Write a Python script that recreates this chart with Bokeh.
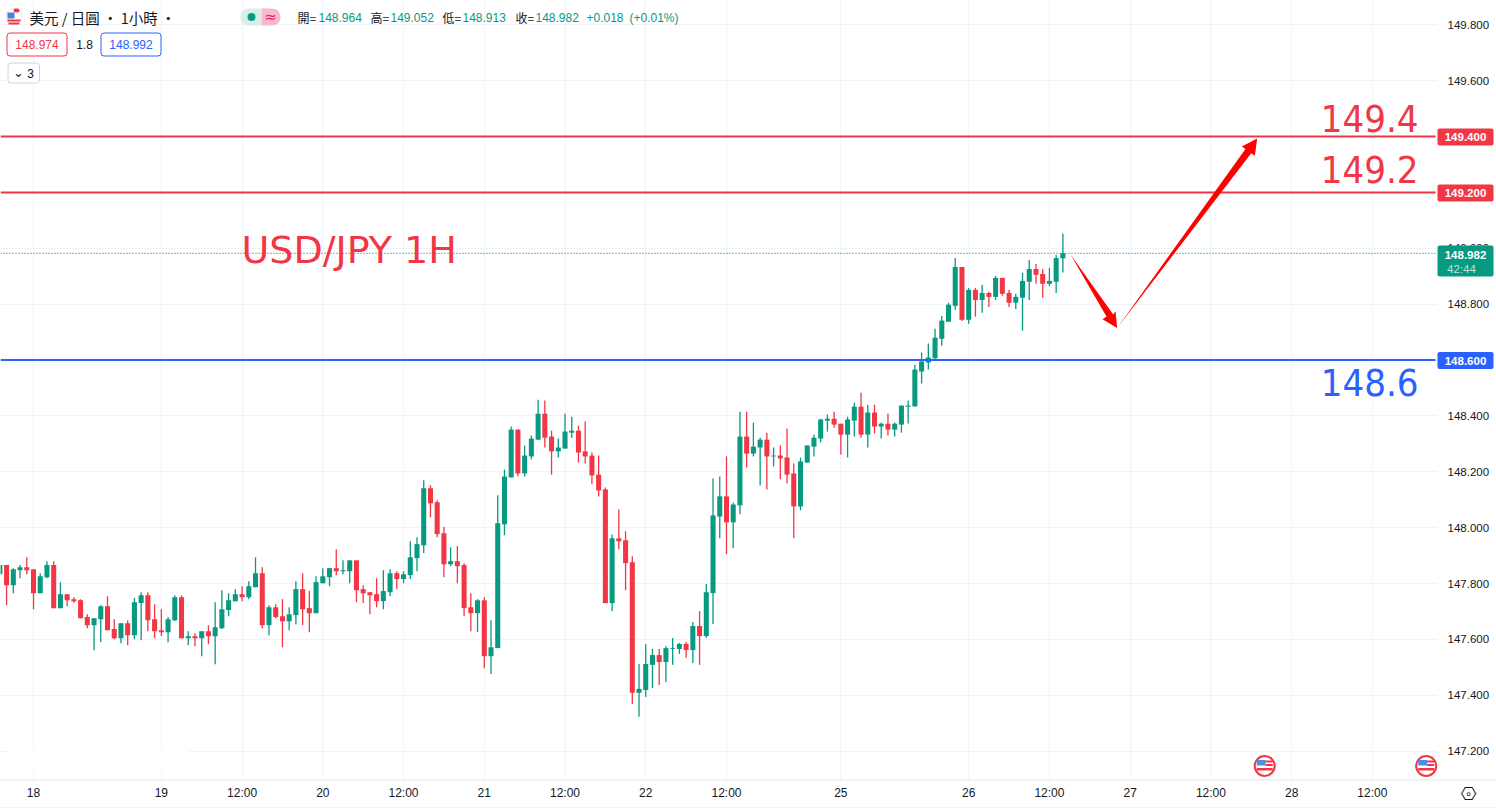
from bokeh.plotting import figure
from bokeh.models import (ColumnDataSource, LinearAxis, FixedTicker, Range1d, Label,
                          BoxAnnotation, NumeralTickFormatter)
from bokeh.embed import file_html
from bokeh.resources import INLINE

opens = [147.833,147.866,147.794,147.848,147.858,147.851,147.765,147.823,147.866,147.712,
147.762,147.744,147.740,147.680,147.651,147.672,147.719,147.637,147.604,147.658,
147.615,147.730,147.758,147.672,147.633,147.626,147.669,147.751,147.604,147.611,
147.604,147.629,147.611,147.640,147.705,147.737,147.762,147.751,147.787,147.837,
147.651,147.715,147.683,147.665,147.687,147.780,147.712,147.694,147.801,147.823,
147.855,147.844,147.844,147.883,147.780,147.769,147.762,147.737,147.769,147.837,
147.816,147.830,147.891,147.937,148.141,148.091,147.980,147.869,147.880,147.866,
147.715,147.694,147.740,147.540,147.569,148.012,148.180,148.351,148.194,148.255,
148.315,148.408,148.326,148.273,148.283,148.340,148.347,148.273,148.258,148.190,
148.137,147.730,147.962,147.955,147.876,147.409,147.419,147.509,147.544,147.519,
147.566,147.566,147.584,147.562,147.648,147.612,147.766,148.040,148.112,148.019,
148.080,148.326,148.265,148.287,148.315,148.255,148.258,148.251,148.194,148.076,
148.233,148.290,148.319,148.383,148.390,148.372,148.333,148.383,148.433,148.333,
148.412,148.362,148.372,148.351,148.369,148.433,148.434,148.559,148.591,148.606,
148.676,148.737,148.794,148.933,148.744,148.851,148.815,148.840,148.826,148.894,
148.840,148.805,148.823,148.880,148.926,148.908,148.873,148.880,148.964]
highs = [147.866,147.866,147.855,147.866,147.894,147.851,147.837,147.880,147.880,147.805,
147.762,147.751,147.744,147.690,147.676,147.722,147.755,147.672,147.658,147.669,
147.748,147.769,147.769,147.726,147.708,147.680,147.758,147.758,147.629,147.622,
147.629,147.651,147.733,147.776,147.765,147.780,147.790,147.808,147.894,147.858,
147.722,147.726,147.744,147.715,147.808,147.837,147.773,147.826,147.855,147.855,
147.923,147.883,147.883,147.883,147.794,147.769,147.819,147.848,147.851,147.844,
147.844,147.951,147.966,148.170,148.152,148.098,148.002,147.930,147.934,147.873,
147.765,147.744,147.751,147.669,148.116,148.208,148.362,148.351,148.294,148.330,
148.458,148.455,148.347,148.319,148.408,148.397,148.365,148.380,148.269,148.258,
148.144,147.976,148.065,147.987,147.898,147.512,147.583,147.566,147.566,147.576,
147.605,147.587,147.591,147.662,147.701,147.798,148.176,148.183,148.255,148.090,
148.415,148.415,148.376,148.322,148.340,148.287,148.294,148.355,148.230,148.251,
148.294,148.333,148.390,148.405,148.415,148.372,148.397,148.447,148.483,148.440,
148.440,148.376,148.408,148.376,148.437,148.455,148.583,148.627,148.659,148.712,
148.758,148.805,148.965,148.933,148.858,148.858,148.869,148.844,148.901,148.894,
148.851,148.837,148.912,148.958,148.944,148.926,148.930,148.976,149.052]
lows = [147.833,147.722,147.765,147.819,147.833,147.708,147.765,147.819,147.712,147.712,
147.719,147.730,147.676,147.640,147.561,147.590,147.633,147.601,147.586,147.579,
147.601,147.597,147.629,147.604,147.612,147.590,147.665,147.604,147.579,147.576,
147.540,147.583,147.511,147.637,147.683,147.737,147.737,147.744,147.787,147.640,
147.615,147.676,147.572,147.633,147.654,147.651,147.626,147.694,147.801,147.790,
147.830,147.833,147.801,147.733,147.730,147.690,147.715,147.708,147.755,147.780,
147.801,147.816,147.844,147.909,148.037,147.966,147.823,147.862,147.801,147.683,
147.629,147.626,147.497,147.476,147.569,147.973,148.180,148.183,148.183,148.244,
148.315,148.287,148.190,148.251,148.283,148.322,148.233,148.230,148.155,148.112,
147.730,147.701,147.923,147.776,147.369,147.323,147.394,147.426,147.437,147.448,
147.509,147.548,147.534,147.516,147.509,147.605,147.655,147.962,147.905,147.926,
148.048,148.215,148.255,148.151,148.137,148.219,148.173,148.158,147.962,148.062,
148.233,148.255,148.305,148.344,148.358,148.262,148.251,148.326,148.322,148.287,
148.337,148.319,148.330,148.326,148.340,148.373,148.434,148.516,148.566,148.605,
148.651,148.737,148.780,148.740,148.730,148.755,148.769,148.790,148.815,148.830,
148.790,148.783,148.705,148.815,148.873,148.823,148.865,148.840,148.913]
closes = [147.866,147.794,147.851,147.858,147.848,147.765,147.826,147.866,147.712,147.762,
147.740,147.737,147.676,147.651,147.676,147.719,147.633,147.604,147.658,147.615,
147.733,147.758,147.669,147.629,147.626,147.672,147.751,147.604,147.611,147.604,
147.629,147.611,147.644,147.708,147.740,147.762,147.751,147.790,147.837,147.651,
147.715,147.680,147.665,147.690,147.780,147.708,147.694,147.805,147.826,147.855,
147.844,147.848,147.883,147.776,147.765,147.758,147.737,147.773,147.837,147.816,
147.833,147.894,147.941,148.141,148.087,147.977,147.869,147.880,147.862,147.712,
147.694,147.740,147.540,147.572,148.016,148.183,148.351,148.194,148.258,148.319,
148.408,148.322,148.273,148.287,148.344,148.347,148.269,148.255,148.187,148.133,
147.730,147.962,147.951,147.873,147.409,147.423,147.512,147.544,147.519,147.569,
147.569,147.584,147.562,147.648,147.612,147.769,148.044,148.112,148.019,148.083,
148.326,148.265,148.290,148.315,148.255,148.258,148.248,148.190,148.076,148.237,
148.294,148.322,148.387,148.390,148.369,148.333,148.387,148.433,148.333,148.412,
148.362,148.372,148.351,148.372,148.437,148.437,148.566,148.595,148.609,148.680,
148.741,148.798,148.933,148.744,148.851,148.815,148.840,148.826,148.894,148.837,
148.805,148.826,148.883,148.926,148.905,148.873,148.883,148.965,148.982]

time_ticks = [5, 24, 36, 48, 60, 72, 84, 96, 108, 125, 144, 156, 168, 180, 192, 204]
time_labels = ["18", "19", "12:00", "20", "12:00", "21", "12:00", "22", "12:00", "25",
               "26", "12:00", "27", "12:00", "28", "12:00"]
price_ticks = [147.2, 147.4, 147.6, 147.8, 148.0, 148.2, 148.4, 148.6, 148.8, 149.0, 149.2, 149.4, 149.6, 149.8]

resistance_levels = [149.4, 149.2]
support_level = 148.6
last_price = 148.982
down_arrow_bar = [159.13, 165.48, 165.82, 166.07, 163.89, 164.48]
down_arrow_price = [148.978, 148.763, 148.775, 148.715, 148.746, 148.756]
up_arrow_bar = [166.07, 185.99, 186.53, 186.88, 184.59, 185.14]
up_arrow_price = [148.715, 149.340, 149.331, 149.393, 149.364, 149.355]
event_bars = [188, 212]

GREEN, RED, BLUE, INK = "#089981", "#f23645", "#2962ff", "#131722"
GRID = "#f0f3fa"
UI_FONT = "Liberation Sans"
BIG_FONT = "DejaVu Sans Condensed"
CJK = "Noto Sans CJK TC"

PX_PER_BAR, PRICE_PER_PX = 6.728, 0.003579
def X(px): return 5 + (px - 33) / PX_PER_BAR
def Y(py): return 149.4 - (py - 136) * PRICE_PER_PX

p = figure(width=1496, height=808, output_backend="svg", toolbar_location=None,
           x_range=Range1d(X(0), X(1496)), y_range=Range1d(Y(808), Y(0)),
           x_axis_location=None, y_axis_location=None,
           min_border=0, outline_line_color=None, background_fill_color="white")

xaxis = LinearAxis(ticker=FixedTicker(ticks=time_ticks), fixed_location=Y(779.5),
                   major_label_overrides=dict(zip(time_ticks, time_labels)),
                   major_tick_line_color=None, minor_tick_line_color=None,
                   major_tick_out=0, minor_tick_out=0, major_label_standoff=6,
                   axis_line_color=None, major_label_text_color=INK,
                   major_label_text_font=UI_FONT, major_label_text_font_size="12px")
p.add_layout(xaxis, "below")
yaxis = LinearAxis(ticker=FixedTicker(ticks=price_ticks), fixed_location=X(1435),
                   formatter=NumeralTickFormatter(format="0.000"),
                   major_tick_line_color=None, minor_tick_line_color=None,
                   major_tick_out=0, minor_tick_out=0, major_label_standoff=12,
                   axis_line_color=None, major_label_text_color=INK,
                   major_label_text_font=UI_FONT, major_label_text_font_size="11.5px")
p.add_layout(yaxis, "right")
p.xgrid.ticker = FixedTicker(ticks=time_ticks)
p.ygrid.ticker = FixedTicker(ticks=price_ticks)
p.xgrid.grid_line_color = GRID
p.ygrid.grid_line_color = GRID

def box(x0, x1, y0, y1, fill="white", line=None, radius=0, alpha=1.0, level="annotation"):
    p.add_layout(BoxAnnotation(left=X(x0), right=X(x1), top=Y(y0), bottom=Y(y1), fill_color=fill,
                               fill_alpha=alpha, line_color=line, line_alpha=1.0, line_width=1,
                               border_radius=radius, level=level))

# blank strips: price scale, time scale and the watermark patch
box(1436, 1497, -1, 809, level="underlay")
box(-1, 1497, 780, 809, level="underlay")
box(7, 188, 748, 770, level="underlay")

bars = list(range(len(opens)))
colors = [GREEN if c >= o else RED for o, c in zip(opens, closes)]
src = ColumnDataSource(dict(x=bars, o=opens, h=highs, l=lows, c=closes, color=colors))
p.segment("x", "h", "x", "l", source=src, line_color="color", line_width=1.3)
p.vbar("x", 0.75, "o", "c", source=src, fill_color="color", line_color=None)

# horizontal levels
def hline(price, color, width, x1=1435, dash="solid"):
    p.segment([X(0)], [price], [X(x1)], [price], line_color=color, line_width=width, line_dash=dash)
for lvl in resistance_levels:
    hline(lvl, RED, 2)
hline(support_level, BLUE, 2)
hline(last_price, GREEN, 1.3, dash="1 2")
hline(Y(779.5), "#e0e3eb", 1, x1=1496)
hline(Y(807.5), "#e0e3eb", 1, x1=1496)

# arrows
p.patch(down_arrow_bar, down_arrow_price, fill_color="#ff0000", line_color=None)
p.patch(up_arrow_bar, up_arrow_price, fill_color="#ff0000", line_color=None)

def text(px, py, s, color=INK, size=12, font=UI_FONT, align="left", **kw):
    lab = Label(x=X(px), y=Y(py), text=s, text_color=color, text_font_size=f"{size}px",
                text_font=font, text_align=align, text_baseline="middle", **kw)
    p.add_layout(lab)
    return lab

# big annotations
text(1418, 118, "149.4", RED, 38, BIG_FONT, "right")
text(1418, 169, "149.2", RED, 38, BIG_FONT, "right")
text(1418, 382, "148.6", BLUE, 38, BIG_FONT, "right")
text(241, 249, "USD/JPY 1H", RED, 38, "DejaVu Sans")

# legend: symbol icon
p.scatter([X(13.5)], [Y(16)], size=16, fill_color="white", line_color="#e8e8ee", line_width=1)
box(7, 14, 12, 18, "#4a7fd8")
box(7, 20, 19, 21, RED)
box(8, 19, 22, 24, RED)
box(13, 19, 8, 12, RED, radius=3)

text(29, 17, "美元 / 日圓 · 1小時 ·", INK, 14.5, CJK)
box(240, 261, 8, 25, "#d6efe9", radius=(8, 0, 0, 8))
box(261, 280, 8, 25, "#f7b9cf", radius=(0, 8, 8, 0))
box(247, 255, 12.5, 20.5, GREEN, radius=4)
text(270, 16.5, "≈", "#e91e63", 15, "DejaVu Sans", "center")

ohlc_labels = [(297, "開="), (370, "高="), (442, "低="), (515, "收=")]
ohlc_values = [(318, "148.964"), (390, "149.052"), (462, "148.913"), (535, "148.982"),
               (586, "+0.018"), (629, "(+0.01%)")]
for px, s in ohlc_labels:
    text(px, 17, s, INK, 12, CJK)
for px, s in ohlc_values:
    text(px, 17, s, GREEN, 12)

box(6.5, 66.5, 32.5, 55.5, "white", RED, radius=3)
text(36.5, 44, "148.974", RED, 12, align="center")
text(84, 43.5, "1.8", INK, 12, align="center")
box(100.5, 160.5, 32.5, 55.5, "white", BLUE, radius=3)
text(130.5, 44, "148.992", BLUE, 12, align="center")
box(7.5, 39, 62.5, 82.5, "white", "#d1d4dc", radius=3)
text(18, 72, "⌄", INK, 13, "DejaVu Sans", "center")
text(30, 72.5, "3", INK, 12, align="center")

# price tags on the axis
def tag(price, s, color):
    cy = 136 + (149.4 - price) / PRICE_PER_PX
    box(1437, 1493, cy - 8, cy + 9, color, radius=2)
    text(1465, cy + 0.5, s, "white", 11.5, align="center", text_font_style="bold")
tag(149.4, "149.400", RED)
tag(149.2, "149.200", RED)
tag(148.6, "148.600", BLUE)
box(1437, 1493, 245, 276, GREEN, radius=2)
text(1465, 254, "148.982", "white", 11.5, align="center", text_font_style="bold")
text(1461, 268, "42:44", "#bfe6de", 11.5, align="center")
text(1468, 793, "⎔", INK, 18, "DejaVu Sans", "center")
text(1468, 793, "∘", INK, 12, "DejaVu Sans", "center")

# economic event markers
ev_y = Y(765.5)
p.scatter(event_bars, [ev_y] * len(event_bars), size=20, fill_color="white", line_color=RED, line_width=2)
for b in event_bars:
    cx = 33 + (b - 5) * PX_PER_BAR
    box(cx - 8, cx + 1, 759.5, 765, "#4a90e2")
    box(cx + 1, cx + 8, 760, 762, RED)
    box(cx + 1, cx + 8, 763.5, 765.5, RED)
    box(cx - 8, cx + 8, 767.5, 770, RED)

open("out.html", "w").write(file_html(p, INLINE))
